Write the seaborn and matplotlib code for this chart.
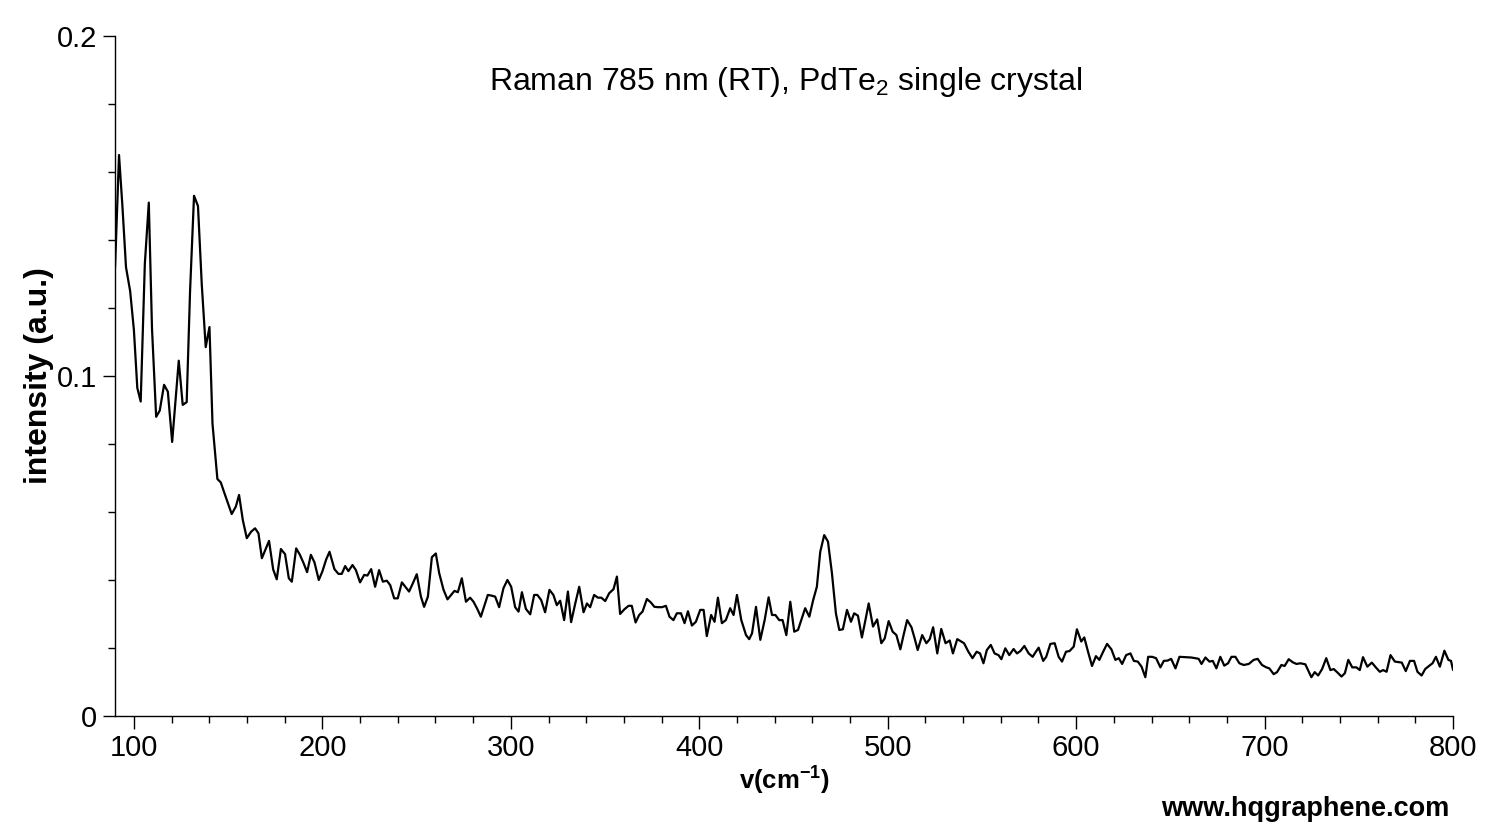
import numpy as np
import pandas as pd
import seaborn as sns
import matplotlib
matplotlib.use('Agg')
import matplotlib.pyplot as plt
from matplotlib.ticker import MultipleLocator

# spectrum
wavenumber = [
    90.0, 92.1, 93.9, 95.8, 98.0, 100.0, 101.8, 103.6, 105.8, 107.9,
    109.6, 111.8, 113.7, 116.0, 118.0, 120.3, 121.8, 123.8, 125.9, 128.0,
    129.8, 131.9, 134.0, 136.0, 138.1, 140.1, 141.7, 144.3, 146.1, 148.0,
    151.9, 154.1, 155.8, 157.8, 159.9, 162.2, 164.3, 166.1, 167.9, 171.7,
    173.9, 175.8, 178.0, 180.2, 182.2, 183.8, 186.1, 188.0, 190.0, 191.9,
    193.9, 195.8, 198.1, 200.0, 202.0, 203.8, 206.4, 208.5, 210.3, 212.1,
    213.8, 216.0, 217.8, 220.0, 222.2, 223.9, 225.9, 228.0, 230.1, 232.1,
    234.2, 236.0, 238.1, 240.0, 242.2, 244.0, 246.0, 248.0, 250.1, 252.3,
    254.0, 256.0, 258.1, 260.2, 262.0, 264.3, 266.4, 268.2, 270.1, 271.9,
    274.0, 276.2, 278.4, 280.2, 282.2, 284.1, 286.0, 287.8, 289.8, 291.7,
    293.8, 296.1, 298.2, 300.2, 302.3, 304.1, 305.9, 308.0, 310.3, 312.4,
    314.1, 316.1, 318.2, 320.5, 322.6, 324.4, 326.2, 328.3, 330.3, 332.0,
    334.2, 336.3, 338.6, 340.4, 342.1, 344.2, 346.2, 348.0, 350.1, 352.2,
    354.5, 356.3, 358.0, 360.3, 362.5, 364.2, 366.2, 368.1, 369.9, 372.2,
    374.3, 376.2, 378.2, 380.2, 382.3, 384.2, 386.3, 388.1, 390.3, 392.2,
    394.0, 396.1, 398.2, 400.5, 402.3, 404.0, 406.3, 408.1, 409.9, 412.0,
    414.1, 416.4, 418.2, 420.0, 422.3, 424.8, 426.5, 428.0, 430.1, 432.4,
    434.7, 436.8, 438.6, 440.4, 442.4, 444.2, 446.2, 448.3, 450.4, 452.4,
    454.3, 456.2, 458.4, 460.4, 462.4, 464.2, 466.3, 468.3, 470.4, 472.5,
    474.3, 476.2, 478.4, 480.5, 482.2, 484.2, 486.3, 488.1, 489.9, 492.2,
    494.4, 496.6, 498.4, 500.5, 502.6, 504.6, 506.7, 508.5, 510.3, 512.6,
    514.3, 515.9, 518.3, 520.5, 522.3, 524.1, 526.3, 528.4, 530.7, 532.9,
    534.6, 536.9, 538.7, 540.5, 542.8, 545.0, 547.2, 549.0, 550.8, 552.6,
    554.7, 556.7, 558.8, 560.3, 562.4, 564.5, 566.8, 568.6, 570.4, 572.5,
    574.8, 576.9, 578.5, 580.1, 582.5, 584.1, 586.3, 588.6, 590.7, 592.5,
    594.6, 596.5, 598.7, 600.4, 602.7, 604.3, 606.3, 608.4, 610.5, 612.3,
    614.4, 616.4, 618.7, 620.8, 622.6, 624.4, 626.5, 628.8, 630.6, 632.7,
    634.7, 636.7, 638.2, 640.3, 642.4, 644.7, 646.5, 648.6, 650.4, 652.7,
    654.8, 658.0, 661.0, 663.2, 665.0, 666.5, 668.6, 670.7, 672.5, 674.4,
    676.5, 678.6, 680.6, 682.4, 684.5, 686.6, 688.9, 691.6, 694.2, 696.3,
    698.6, 700.9, 702.5, 704.8, 706.6, 708.9, 710.6, 712.8, 714.9, 716.9,
    719.0, 721.6, 724.8, 726.6, 728.4, 730.5, 732.7, 734.9, 736.7, 738.8,
    740.8, 742.6, 744.4, 746.5, 748.7, 750.5, 752.2, 754.5, 756.9, 759.0,
    761.1, 762.9, 764.7, 766.8, 769.1, 772.8, 774.9, 777.1, 779.3, 781.1,
    783.3, 785.2, 787.2, 789.1, 790.9, 793.0, 795.4, 797.5, 798.9, 800.0,
]
intensity = [
    0.132, 0.165, 0.150, 0.132, 0.125, 0.1135, 0.0965, 0.0925, 0.133, 0.151,
    0.114, 0.088, 0.0898, 0.0974, 0.0954, 0.0806, 0.091, 0.1045, 0.0915, 0.0923,
    0.125, 0.153, 0.150, 0.127, 0.1085, 0.1144, 0.086, 0.0697, 0.0687, 0.0656,
    0.0594, 0.0616, 0.065, 0.0576, 0.0523, 0.0542, 0.0552, 0.0537, 0.0464, 0.0515,
    0.0431, 0.0402, 0.0491, 0.0476, 0.0405, 0.0395, 0.0493, 0.0475, 0.045, 0.0423,
    0.0474, 0.0452, 0.040, 0.0425, 0.046, 0.0483, 0.0432, 0.0418, 0.0418, 0.0441,
    0.0426, 0.0444, 0.0429, 0.0393, 0.0415, 0.0413, 0.0432, 0.038, 0.0429, 0.0395,
    0.0398, 0.0385, 0.0346, 0.0346, 0.0393, 0.038, 0.0366, 0.039, 0.0417, 0.0351,
    0.0321, 0.0351, 0.0467, 0.0478, 0.042, 0.0371, 0.0343, 0.0355, 0.0368, 0.0364,
    0.0405, 0.0336, 0.0348, 0.0336, 0.0315, 0.0292, 0.0325, 0.0356, 0.0354, 0.0351,
    0.032, 0.0376, 0.040, 0.038, 0.032, 0.0307, 0.0364, 0.0315, 0.0299, 0.0356,
    0.0356, 0.0341, 0.0305, 0.0371, 0.0356, 0.0326, 0.0339, 0.0282, 0.0366, 0.0276,
    0.0331, 0.038, 0.0305, 0.0331, 0.032, 0.0356, 0.0348, 0.0348, 0.0338, 0.0361,
    0.0373, 0.041, 0.030, 0.0314, 0.0324, 0.0324, 0.0275, 0.0297, 0.0307, 0.0344,
    0.0334, 0.0321, 0.032, 0.032, 0.0324, 0.0292, 0.0282, 0.0302, 0.0302, 0.0273,
    0.0308, 0.0266, 0.0277, 0.0312, 0.0312, 0.0235, 0.0297, 0.0277, 0.0348, 0.0273,
    0.0282, 0.0317, 0.0297, 0.0356, 0.0282, 0.0238, 0.0226, 0.0243, 0.0321, 0.0224,
    0.0282, 0.0349, 0.0297, 0.0297, 0.0282, 0.0282, 0.0238, 0.0336, 0.0248, 0.0253,
    0.0285, 0.0317, 0.0292, 0.034, 0.038, 0.0483, 0.0532, 0.0513, 0.042, 0.0302,
    0.0253, 0.0255, 0.0312, 0.0277, 0.0302, 0.0295, 0.0231, 0.028, 0.0331, 0.0263,
    0.0284, 0.0214, 0.0228, 0.0279, 0.0248, 0.0238, 0.0196, 0.024, 0.0282, 0.0261,
    0.0228, 0.0194, 0.0238, 0.0214, 0.0226, 0.0261, 0.0184, 0.0256, 0.0214, 0.0222,
    0.0184, 0.0226, 0.022, 0.0214, 0.0189, 0.017, 0.0189, 0.0184, 0.0155, 0.0194,
    0.0209, 0.0184, 0.0179, 0.0167, 0.0199, 0.0179, 0.0197, 0.0184, 0.0191, 0.0206,
    0.0184, 0.0174, 0.0188, 0.0201, 0.0162, 0.0174, 0.0212, 0.0214, 0.0174, 0.016,
    0.0189, 0.0191, 0.0204, 0.0255, 0.0219, 0.0231, 0.0189, 0.0147, 0.0176, 0.0165,
    0.019, 0.0212, 0.0196, 0.0165, 0.017, 0.0153, 0.0179, 0.0184, 0.0162, 0.016,
    0.0145, 0.0114, 0.0174, 0.0174, 0.017, 0.0143, 0.0162, 0.0163, 0.0168, 0.014,
    0.0174, 0.0173, 0.0172, 0.017, 0.0168, 0.0153, 0.0172, 0.016, 0.0162, 0.014,
    0.0174, 0.0148, 0.0155, 0.0174, 0.0174, 0.0155, 0.015, 0.0153, 0.0165, 0.0168,
    0.015, 0.0143, 0.014, 0.0123, 0.0129, 0.015, 0.0147, 0.0167, 0.0158, 0.0153,
    0.0155, 0.0152, 0.0114, 0.0129, 0.0119, 0.0138, 0.017, 0.0135, 0.0138, 0.0127,
    0.0116, 0.0126, 0.0165, 0.0143, 0.0143, 0.0135, 0.0173, 0.0145, 0.0157, 0.0143,
    0.013, 0.0135, 0.013, 0.0179, 0.016, 0.0157, 0.0132, 0.0162, 0.0162, 0.013,
    0.0119, 0.0138, 0.0147, 0.0155, 0.0174, 0.0145, 0.0192, 0.0165, 0.0162, 0.0135,
]
y_ticks = [0, 0.1, 0.2]
y_ticklabels = ['0', '0.1', '0.2']

df = pd.DataFrame({'wavenumber': wavenumber, 'intensity': intensity})

sns.set_style('white')
plt.rcParams['font.family'] = ['Liberation Sans', 'DejaVu Sans']
plt.rcParams['mathtext.fontset'] = 'custom'
plt.rcParams['mathtext.rm'] = 'Liberation Sans'
plt.rcParams['mathtext.bf'] = 'Liberation Sans:bold'
plt.rcParams['text.color'] = 'black'
plt.rcParams['axes.labelcolor'] = 'black'
plt.rcParams['xtick.color'] = 'black'
plt.rcParams['ytick.color'] = 'black'

fig = plt.figure(figsize=(15.1, 8.26), dpi=100)
ax = fig.add_axes([0.0762, 0.1332, 0.8861, 0.8232])

sns.lineplot(data=df, x='wavenumber', y='intensity', ax=ax, color='black',
             linewidth=1.6, sort=False, estimator=None)

ax.set_xlim(90, 800)
ax.set_ylim(0, 0.2)
ax.xaxis.set_major_locator(MultipleLocator(100))
ax.xaxis.set_minor_locator(MultipleLocator(20))
ax.set_yticks(y_ticks, labels=y_ticklabels)
ax.yaxis.set_minor_locator(MultipleLocator(0.02))
ax.tick_params(which='major', direction='out', length=9, width=1, labelsize=21, pad=4)
ax.tick_params(which='minor', direction='out', length=5, width=1)
ax.tick_params(bottom=True, left=True, which='both')

sns.despine(ax=ax)
for s in ['left', 'bottom']:
    ax.spines[s].set_linewidth(1)
    ax.spines[s].set_color('black')

ax.set_xlabel(r'v(cm$^{\mathbf{-1}}$)', fontsize=18.5, fontweight='bold', labelpad=1)
ax.set_ylabel('intensity (a.u.)', fontsize=23, fontweight='bold', labelpad=2)

ax.text(0.5015, 0.932, r'Raman 785 nm (RT), PdTe$_\mathregular{2}$ single crystal',
        transform=ax.transAxes, ha='center', va='center', fontsize=23)
fig.text(0.960, 0.021, 'www.hqgraphene.com', ha='right', va='center',
         fontsize=19.5, fontweight='bold')

fig.savefig('out.png', dpi=100)
